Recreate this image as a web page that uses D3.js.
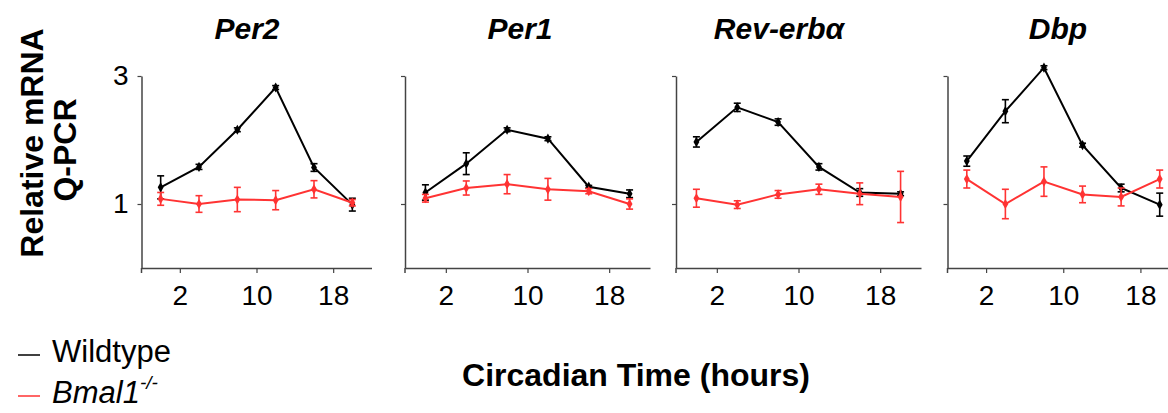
<!DOCTYPE html>
<head>
<meta charset="utf-8">
<title>Clock genes Q-PCR</title>
<style>
body { margin: 0; background: #fff; }
svg { font-family: "Liberation Sans", Arial, sans-serif; }
</style>
<script src="https://cdn.jsdelivr.net/npm/d3@7"></script>
</head>
<body>
<svg id="chart" width="1168" height="413"></svg>
<script>
// circadian time of each sample (hours)
var hours = [0, 4, 8, 12, 16, 20];
var genes = ["Per2", "Per1", "Rev-erbα", "Dbp"];
var xTicks = [2, 10, 18];
var yTicks = [1, 3];

// wildtype means / error
var wtMean = [[1.26, 1.58, 2.16, 2.82, 1.57, 0.99],
              [1.18, 1.63, 2.16, 2.02, 1.27, 1.16],
              [1.97, 2.51, 2.28, 1.58, 1.18, 1.16],
              [1.67, 2.45, 3.13, 1.92, 1.25, 0.99]];
var wtErr  = [[0.18, 0.04, 0.03, 0.03, 0.06, 0.10],
              [0.12, 0.17, 0.03, 0.03, 0.02, 0.06],
              [0.08, 0.065, 0.05, 0.05, 0.06, 0.03],
              [0.08, 0.18, 0.03, 0.03, 0.06, 0.18]];
// Bmal1-/- means / error
var koMean = [[1.08, 1.00, 1.07, 1.06, 1.23, 1.02],
              [1.09, 1.25, 1.31, 1.23, 1.20, 1.00],
              [1.09, 0.99, 1.15, 1.23, 1.16, 1.11],
              [1.39, 1.00, 1.35, 1.15, 1.11, 1.39]];
var koErr  = [[0.10, 0.13, 0.19, 0.15, 0.135, 0.05],
              [0.06, 0.11, 0.15, 0.17, 0.04, 0.08],
              [0.14, 0.06, 0.06, 0.08, 0.17, 0.40],
              [0.14, 0.23, 0.23, 0.13, 0.14, 0.14]];

// layout: left/right pixel of each panel, title centre
var panelX = [[141.5, 371.5], [405, 650], [676, 921], [947.5, 1179]];
var titleX = [247, 520, 779, 1058];
var axisCol = "#444";
var red = "#f33";

var svg = d3.select("#chart");
var y = d3.scaleLinear().domain([0, 3]).range([268, 76]);

genes.forEach(function(g, i) {
  var x = d3.scaleLinear().domain([-2, 22]).range(panelX[i]);
  var p = svg.append("g");

  var xa = p.append("g").attr("transform", "translate(0," + y(0) + ")")
    .call(d3.axisBottom(x).tickValues(xTicks).tickSize(5).tickSizeOuter(0).tickPadding(12));
  var ya = p.append("g").attr("transform", "translate(" + panelX[i][0] + ",0)")
    .call(d3.axisLeft(y).tickValues(yTicks).tickSize(4).tickSizeOuter(0).tickPadding(9)
      .tickFormat(i == 0 ? d3.format("d") : function() { return ""; }));
  [xa, ya].forEach(function(a) {
    a.select(".domain").attr("stroke", axisCol).attr("stroke-width", 1.5);
    a.selectAll(".tick line").attr("stroke", axisCol).attr("stroke-width", 1.2);
    a.selectAll("text").attr("font-size", 28).attr("fill", "#000").attr("font-family", null);
  });
  // small stub of y axis below the x axis
  p.append("line").attr("x1", panelX[i][0]).attr("x2", panelX[i][0])
    .attr("y1", y(0)).attr("y2", y(0) + 5).attr("stroke", axisCol).attr("stroke-width", 1.5);

  p.append("text").attr("x", titleX[i]).attr("y", 39).attr("text-anchor", "middle")
    .attr("font-size", 30).attr("font-weight", "bold").attr("font-style", "italic").text(g);

  var series = [{m: wtMean[i], e: wtErr[i], c: "#000"}, {m: koMean[i], e: koErr[i], c: red}];
  series.forEach(function(s) {
    var pts = hours.map(function(h, j) { return {h: h, v: s.m[j], e: s.e[j]}; });
    var line = d3.line().x(function(d) { return x(d.h); }).y(function(d) { return y(d.v); });
    p.append("path").datum(pts).attr("d", line).attr("fill", "none")
      .attr("stroke", s.c).attr("stroke-width", 2);
    var eb = p.append("g").attr("stroke", s.c).attr("stroke-width", 1.6);
    eb.selectAll(".v").data(pts).enter().append("line")
      .attr("x1", function(d) { return x(d.h); }).attr("x2", function(d) { return x(d.h); })
      .attr("y1", function(d) { return y(d.v - d.e); }).attr("y2", function(d) { return y(d.v + d.e); });
    [-1, 1].forEach(function(sg) {
      eb.selectAll(".c" + sg).data(pts).enter().append("line")
        .attr("x1", function(d) { return x(d.h) - 3.5; }).attr("x2", function(d) { return x(d.h) + 3.5; })
        .attr("y1", function(d) { return y(d.v + sg * d.e); }).attr("y2", function(d) { return y(d.v + sg * d.e); });
    });
    p.append("g").selectAll("path").data(pts).enter().append("path")
      .attr("d", d3.symbol(d3.symbolDiamond, 30))
      .attr("transform", function(d) { return "translate(" + x(d.h) + "," + y(d.v) + ")"; })
      .attr("fill", s.c);
  });
});

// y label
svg.append("text").attr("transform", "translate(43,143) rotate(-90)").attr("text-anchor", "middle")
  .attr("font-size", 32).attr("font-weight", "bold").text("Relative mRNA");
svg.append("text").attr("transform", "translate(76,150) rotate(-90)").attr("text-anchor", "middle")
  .attr("font-size", 32).attr("font-weight", "bold").text("Q-PCR");

// x label
svg.append("text").attr("x", 636).attr("y", 386).attr("text-anchor", "middle")
  .attr("font-size", 32).attr("font-weight", "bold").text("Circadian Time (hours)");

// legend
var leg = [{name: "Wildtype", c: "#000", it: false}, {name: "Bmal1", c: red, it: true, sup: "-/-"}];
leg.forEach(function(l, k) {
  var ly = 355 + k * 41;
  svg.append("line").attr("x1", 18).attr("x2", 40).attr("y1", ly).attr("y2", ly)
    .attr("stroke", l.c).attr("stroke-width", 1.5);
  var t = svg.append("text").attr("x", 52).attr("y", ly + 7).attr("font-size", 31)
    .attr("font-style", l.it ? "italic" : "normal").text(l.name);
  if (l.sup) t.append("tspan").attr("dy", -14).attr("font-size", 19).text(l.sup);
});
</script>
</body>
